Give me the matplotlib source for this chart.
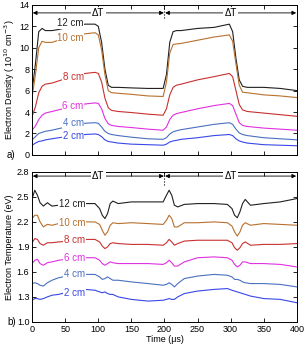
import matplotlib
matplotlib.use("Agg")
import matplotlib.pyplot as plt

plt.rcParams['font.family'] = ['Liberation Sans', 'DejaVu Sans']
plt.rcParams['font.size'] = 6.5

# density panel (a)
t_n = [0, 5, 10, 15, 20, 30, 40, 60, 80, 95, 100, 105, 110, 115, 120, 130, 150, 175, 198,
       203, 208, 213, 218, 225, 250, 275, 298, 303, 308, 313, 318, 325, 350, 375, 400]
n12 = [6.0, 8.5, 11.5, 11.8, 11.6, 11.6, 11.7, 12.0, 12.2, 12.2, 12.0, 10.5, 8.0, 6.5, 6.3, 6.3, 6.25, 6.2, 6.2,
       7.5, 10.5, 11.5, 11.6, 11.6, 11.8, 11.9, 12.2, 11.5, 9.0, 7.0, 6.4, 6.3, 6.3, 6.2, 6.0]
n10 = [5.4, 7.5, 10.0, 10.6, 10.5, 10.5, 10.7, 11.0, 11.3, 11.4, 11.2, 9.8, 7.5, 6.0, 5.8, 5.75, 5.65, 5.5, 5.45,
       6.8, 9.5, 10.3, 10.35, 10.4, 10.7, 11.0, 11.2, 10.6, 8.5, 6.5, 5.85, 5.8, 5.6, 5.5, 5.35]
n8 = [3.6, 4.5, 5.8, 6.4, 6.6, 6.7, 6.9, 7.3, 7.6, 7.7, 7.6, 6.8, 5.3, 4.4, 4.15, 4.05, 3.95, 3.8, 3.7,
      4.3, 5.6, 6.3, 6.5, 6.6, 7.0, 7.3, 7.6, 7.3, 6.0, 4.7, 4.2, 4.05, 3.9, 3.75, 3.6]
n6 = [2.3, 2.7, 3.3, 3.7, 3.9, 4.05, 4.2, 4.5, 4.75, 4.85, 4.8, 4.3, 3.4, 2.9, 2.75, 2.65, 2.55, 2.4, 2.3,
      2.6, 3.3, 3.7, 3.85, 3.95, 4.3, 4.6, 4.8, 4.6, 3.8, 3.0, 2.75, 2.65, 2.5, 2.4, 2.3]
n4 = [1.4, 1.7, 2.0, 2.1, 2.2, 2.3, 2.45, 2.7, 2.95, 3.0, 2.95, 2.6, 2.2, 2.0, 1.9, 1.8, 1.65, 1.5, 1.45,
      1.6, 1.95, 2.15, 2.25, 2.35, 2.6, 2.85, 3.0, 2.85, 2.4, 2.05, 1.9, 1.8, 1.6, 1.5, 1.4]
n2 = [0.9, 1.1, 1.25, 1.3, 1.4, 1.5, 1.6, 1.75, 1.9, 1.95, 1.9, 1.7, 1.4, 1.25, 1.2, 1.1, 1.0, 0.95, 0.9,
      1.0, 1.2, 1.3, 1.35, 1.45, 1.6, 1.8, 1.9, 1.8, 1.5, 1.3, 1.2, 1.1, 0.95, 0.9, 0.85]

# temperature panel (b)
t_T = [0, 4, 8, 12, 17, 23, 30, 40, 60, 80, 95, 102, 106, 110, 114, 118, 122, 130, 150, 175, 198,
       203, 207, 211, 215, 220, 230, 250, 275, 295, 302, 306, 310, 314, 318, 322, 330, 350, 375, 400]
T12 = [2.48, 2.58, 2.52, 2.43, 2.39, 2.43, 2.39, 2.40, 2.41, 2.42, 2.42, 2.36, 2.28, 2.24, 2.30, 2.42, 2.45, 2.42, 2.44, 2.44, 2.44,
       2.52, 2.58, 2.52, 2.40, 2.38, 2.41, 2.42, 2.42, 2.41, 2.36, 2.28, 2.25, 2.32, 2.42, 2.47, 2.40, 2.42, 2.44, 2.48]
T10 = [2.24, 2.28, 2.28, 2.20, 2.14, 2.17, 2.16, 2.18, 2.19, 2.20, 2.20, 2.17, 2.10, 2.04, 2.08, 2.16, 2.19, 2.18, 2.19, 2.18, 2.17,
       2.22, 2.28, 2.24, 2.14, 2.14, 2.19, 2.19, 2.20, 2.19, 2.15, 2.08, 2.03, 2.08, 2.16, 2.19, 2.16, 2.18, 2.17, 2.16]
T8 = [1.95, 2.00, 1.99, 1.94, 1.92, 1.95, 1.95, 1.96, 1.97, 1.99, 1.99, 1.96, 1.91, 1.88, 1.90, 1.94, 1.95, 1.94, 1.93, 1.93, 1.92,
      1.95, 1.99, 1.96, 1.92, 1.94, 1.97, 1.98, 1.98, 1.98, 1.95, 1.89, 1.86, 1.89, 1.94, 1.96, 1.92, 1.93, 1.93, 1.94]
T6 = [1.70, 1.74, 1.75, 1.70, 1.68, 1.71, 1.72, 1.74, 1.76, 1.77, 1.77, 1.74, 1.70, 1.68, 1.70, 1.72, 1.71, 1.70, 1.70, 1.70, 1.69,
      1.71, 1.74, 1.71, 1.67, 1.67, 1.72, 1.77, 1.78, 1.77, 1.74, 1.69, 1.66, 1.68, 1.72, 1.72, 1.70, 1.70, 1.69, 1.66]
T4 = [1.46, 1.47, 1.46, 1.44, 1.43, 1.47, 1.50, 1.53, 1.56, 1.57, 1.57, 1.54, 1.51, 1.52, 1.54, 1.52, 1.50, 1.50, 1.48, 1.46, 1.44,
      1.45, 1.47, 1.45, 1.42, 1.46, 1.52, 1.55, 1.57, 1.56, 1.54, 1.51, 1.51, 1.50, 1.48, 1.47, 1.46, 1.46, 1.45, 1.42]
T2 = [1.26, 1.28, 1.28, 1.27, 1.28, 1.30, 1.32, 1.33, 1.37, 1.39, 1.38, 1.36, 1.35, 1.36, 1.34, 1.33, 1.33, 1.30, 1.27, 1.25, 1.26,
      1.27, 1.28, 1.27, 1.27, 1.30, 1.34, 1.37, 1.39, 1.40, 1.38, 1.37, 1.36, 1.35, 1.34, 1.33, 1.31, 1.28, 1.27, 1.23]

labels = ["12 cm", "10 cm", "8 cm", "6 cm", "4 cm", "2 cm"]
colors = ["#202020", "#b8702e", "#c83030", "#e030e0", "#4a70c0", "#3848e8"]
n_lab_y = [12.3, 10.9, 7.3, 4.55, 2.95, 1.75]
T_lab_y = [2.42, 2.19, 1.98, 1.77, 1.57, 1.35]


def style(ax):
    ax.tick_params(direction='in', top=True, right=True, length=3, width=0.6, pad=2)
    for s in ax.spines.values():
        s.set_linewidth(0.7)
    ax.set_xlim(0, 400)
    ax.set_xticks(range(0, 401, 50))


def delta_t(ax, y, ybot, ytop):
    for x0, x1 in [(1, 199), (201, 399)]:
        ax.annotate("", xy=(x0, y), xytext=(x1, y),
                    arrowprops=dict(arrowstyle='<|-|>', color='k', lw=0.6,
                                    mutation_scale=6, shrinkA=0, shrinkB=0))
        ax.text((x0 + x1) / 2, y, "ΔT", ha='center', va='center', fontsize=7,
                bbox=dict(facecolor='white', edgecolor='none', pad=1))
    ax.plot([200, 200], [ybot, ytop], 'k:', lw=0.8)


fig = plt.figure(figsize=(3.06, 3.48), dpi=100)
ax1 = fig.add_axes([0.105, 0.555, 0.865, 0.431])
ax2 = fig.add_axes([0.105, 0.075, 0.865, 0.431])

for ys, c, lab, ly in zip([n12, n10, n8, n6, n4, n2], colors, labels, n_lab_y):
    ax1.plot(t_n, ys, color=c, lw=0.8)
    ax1.text(78, ly, lab, color=c, ha='right', va='center', fontsize=7,
             bbox=dict(facecolor='white', edgecolor='none', pad=0.5))
style(ax1)
ax1.set_ylim(0, 14)
ax1.set_yticks(range(0, 15, 2))
ax1.set_xticklabels([])
ax1.set_ylabel("Electron Density ( 10$^{10}$ cm$^{-3}$)", labelpad=2)
delta_t(ax1, 13.25, 12.75, 14)
ax1.text(-0.095, 0.0, "a)", transform=ax1.transAxes, ha='left', va='center', fontsize=7)

for ys, c, lab, ly in zip([T12, T10, T8, T6, T4, T2], colors, labels, T_lab_y):
    ax2.plot(t_T, ys, color=c, lw=0.8)
    ax2.text(80, ly, lab, color=c, ha='right', va='center', fontsize=7,
             bbox=dict(facecolor='white', edgecolor='none', pad=0.5))
style(ax2)
ax2.set_ylim(1.0, 2.8)
ax2.set_yticks([1.0, 1.3, 1.6, 1.9, 2.2, 2.5, 2.8])
ax2.set_yticklabels(["1.0", "1.3", "1.6", "1.9", "2.2", "2.5", "2.8"])
ax2.set_xlabel("Time (μs)", labelpad=1)
ax2.set_ylabel("Electron Temperature (eV)", labelpad=2)
delta_t(ax2, 2.75, 2.64, 2.8)
ax2.text(-0.095, 0.0, "b)", transform=ax2.transAxes, ha='left', va='center', fontsize=7)

fig.savefig("out.png", dpi=100)
